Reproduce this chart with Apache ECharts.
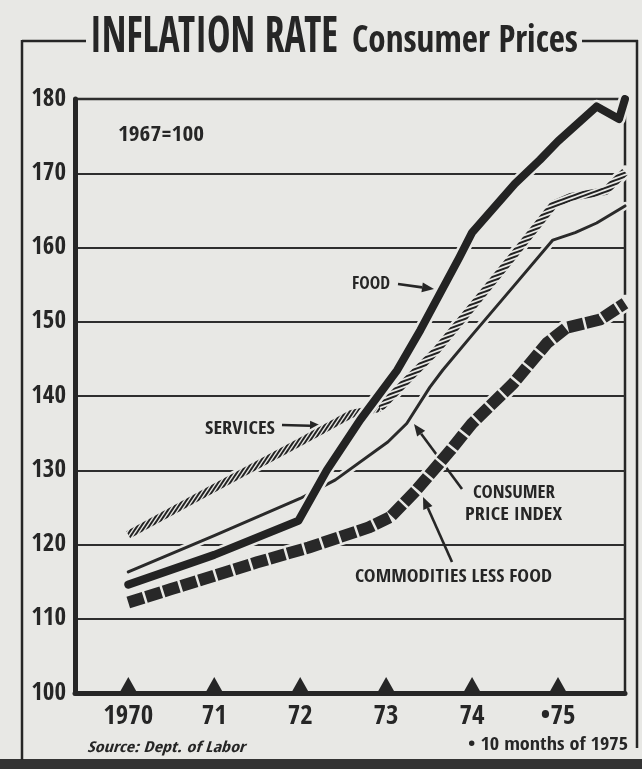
<!DOCTYPE html>
<html><head><meta charset="utf-8">
<script src="https://cdn.jsdelivr.net/npm/echarts@6/dist/echarts.min.js"></script>
<style>html,body{margin:0;padding:0;background:#e8e8e5}#c{width:642px;height:769px}</style>
</head><body><div id="c"></div>
<script>
// ---------- data ----------
const xTickYears  = [1970, 1971, 1972, 1973, 1974, 1975];
const xTickLabels = ['1970', '71', '72', '73', '74', '\u202275'];
const yTickValues = [100, 110, 120, 130, 140, 150, 160, 170, 180];

const foodData = [
  [1970.0, 114.6], [1971.0, 118.6], [1971.98, 123.2], [1972.31, 130.0], [1972.70, 136.8],
  [1973.13, 143.5], [1973.40, 148.9], [1973.85, 158.6], [1974.0, 162.0], [1974.5, 168.6],
  [1974.79, 171.8], [1975.0, 174.3], [1975.45, 179.0], [1975.71, 177.3], [1975.78, 180.0]
];
const servicesData = [
  [1970.0, 121.3], [1971.0, 127.6], [1972.0, 133.8], [1972.6, 137.6], [1972.93, 138.4],
  [1973.36, 143.5], [1973.59, 146.2], [1974.0, 152.0], [1974.5, 159.2], [1974.95, 165.8],
  [1975.15, 166.8], [1975.55, 167.6], [1975.78, 170.2]
];
const cpiData = [
  [1970.0, 116.3], [1971.0, 121.2], [1972.0, 126.2], [1972.41, 128.7], [1973.02, 133.8],
  [1973.24, 136.3], [1973.51, 141.2], [1973.66, 143.5], [1974.0, 148.2], [1974.5, 155.0],
  [1974.94, 161.0], [1975.2, 162.0], [1975.45, 163.3], [1975.78, 165.6]
];
const commoditiesData = [
  [1970.0, 112.2], [1970.5, 114.0], [1971.0, 115.8], [1971.5, 117.6], [1972.1, 119.6],
  [1972.8, 122.3], [1973.05, 123.7], [1973.35, 127.3], [1973.75, 132.7], [1974.0, 136.3],
  [1974.48, 141.7], [1974.87, 147.1], [1975.1, 149.2], [1975.49, 150.3], [1975.78, 152.5]
];

// ---------- styling ----------
const ink = '#262626', paper = '#e8e8e5';
const FONT = "'Open Sans Condensed','Open Sans','DejaVu Sans Condensed',sans-serif";

const mctx = document.createElement('canvas').getContext('2d');
function fontStr(size, weight, style) { return (style || 'normal') + ' ' + (weight || 'bold') + ' ' + size + 'px ' + FONT; }
function txt(text, x, y, size, targetW, opt) {
  opt = opt || {};
  const f = fontStr(size, opt.weight, opt.style);
  mctx.font = f;
  const sx = targetW / mctx.measureText(text).width;
  return { type: 'text', x: x, y: y, scaleX: sx, z: 20,
    style: { text: text, x: 0, y: 0, font: f, fill: ink, textAlign: 'left', textVerticalAlign: 'middle' } };
}
function arrow(x1, y1, x2, y2) {
  const a = Math.atan2(y2 - y1, x2 - x1), L = 12, W = 5;
  const bx = x2 - L * Math.cos(a), by = y2 - L * Math.sin(a);
  const px = -Math.sin(a) * W, py = Math.cos(a) * W;
  return [
    { type: 'line', z: 1, shape: { x1: x1, y1: y1, x2: bx, y2: by }, style: { stroke: ink, lineWidth: 2.6 } },
    { type: 'polygon', z: 1, shape: { points: [[x2, y2], [bx + px, by + py], [bx - px, by - py]] }, style: { fill: ink } }
  ];
}
function hLine(x1, x2, y, w) { return { type: 'line', z: 20, shape: { x1: x1, y1: y, x2: x2, y2: y }, style: { stroke: ink, lineWidth: w } }; }
function vLine(x, y1, y2, w) { return { type: 'line', z: 20, shape: { x1: x, y1: y1, x2: x, y2: y2 }, style: { stroke: ink, lineWidth: w } }; }

// hatched patterns for SERVICES (stripe angle differs along the line as in the print)
function makeHatch(w, h, lw) {
  const pc = document.createElement('canvas');
  pc.width = w; pc.height = h;
  const p = pc.getContext('2d');
  p.strokeStyle = '#222';
  p.lineWidth = lw;
  for (let k = -3; k <= 3; k++) {
    p.beginPath();
    p.moveTo(-w, 2 * h + k * h);
    p.lineTo(2 * w, -h + k * h);
    p.stroke();
  }
  return { image: pc, repeat: 'repeat' };
}
const hatchSteep = makeHatch(4, 6, 2.0);   // early, shallow part of the line
const hatchFlat  = makeHatch(11, 4, 2.1);  // later, steep part of the line

function halo(data, width, z) {
  return { type: 'line', data: data, z: z, silent: true, symbol: 'none', animation: false,
    lineStyle: { color: paper, width: width + 5, cap: 'round', join: 'round', opacity: 1 } };
}
function ln(data, color, width, z, dash, cap) {
  return { type: 'line', data: data, z: z, silent: true, symbol: 'none', animation: false,
    lineStyle: { color: color, width: width, type: dash || 'solid', cap: cap || 'round', join: 'round', opacity: 1 } };
}

const chart = echarts.init(document.getElementById('c'), null, { renderer: 'canvas' });

const graphics = [].concat(
  [
    { type: 'rect', z: 20, shape: { x: 0, y: 759, width: 642, height: 10 }, style: { fill: '#333' } },
    hLine(22, 86, 41, 2.5), hLine(582, 638, 41, 2.5),
    vLine(22, 40, 760, 2.5), vLine(637, 40, 748, 2.5),
    txt('INFLATION RATE', 90, 39, 50, 248),
    txt('Consumer Prices', 352, 42, 38, 226),
    txt('1967=100', 118, 136, 21, 86),
    txt('FOOD', 352, 284, 18, 38),
    txt('SERVICES', 205, 429, 18, 70),
    txt('CONSUMER', 473, 493, 18, 82),
    txt('PRICE INDEX', 465, 515, 18, 97),
    txt('COMMODITIES LESS FOOD', 355, 577, 18, 197),
    txt('Source: Dept. of Labor', 87, 748, 15, 158, { style: 'italic' }),
    txt('\u2022 10 months of 1975', 468, 745, 18, 160)
  ],
  arrow(398, 284, 434, 289),
  arrow(282, 425, 322, 426),
  arrow(462, 489, 414, 424),
  arrow(452, 562, 423, 497)
);

const splitIdx = 4; // services: index where stripe angle changes
const option = {
  backgroundColor: paper,
  animation: false,
  grid: { left: 75, right: 17, top: 99, bottom: 76, show: true, borderColor: ink, borderWidth: 2.5, backgroundColor: 'transparent' },
  xAxis: {
    type: 'value', min: 1969.38, max: 1975.78,
    axisLine: { show: true, onZero: false, lineStyle: { color: ink, width: 5 } },
    axisTick: { show: false },
    splitLine: { show: false },
    axisLabel: {
      customValues: xTickYears,
      formatter: function (v) { const i = xTickYears.indexOf(v); return i >= 0 ? xTickLabels[i] : ''; },
      color: ink, fontSize: 27, fontWeight: 'bold', fontFamily: FONT, margin: 10
    }
  },
  yAxis: {
    type: 'value', min: yTickValues[0], max: yTickValues[yTickValues.length - 1], interval: 10,
    axisLine: { show: true, lineStyle: { color: ink, width: 5 } },
    axisTick: { show: false },
    splitLine: { show: true, lineStyle: { color: '#2e2e2e', width: 2 } },
    axisLabel: { color: ink, fontSize: 25, fontWeight: 'bold', fontFamily: FONT, margin: 9,
      formatter: function (v) { return yTickValues.indexOf(v) >= 0 ? String(v) : ''; } }
  },
  series: [
    halo(commoditiesData, 12, 3),
    ln(commoditiesData, '#282828', 12, 4, [16, 2.5], 'butt'),
    halo(cpiData, 3, 5),
    ln(cpiData, '#2a2a2a', 3, 6),
    halo(servicesData, 8, 7),
    ln(servicesData.slice(0, splitIdx + 1), hatchSteep, 8, 8, 'solid', 'butt'),
    ln(servicesData.slice(splitIdx), hatchFlat, 8, 8, 'solid', 'butt'),
    halo(foodData, 8, 9),
    ln(foodData, '#232323', 8, 10),
    {
      type: 'scatter', z: 12, silent: true, clip: false, animation: false,
      data: xTickYears.map(function (y) { return [y, yTickValues[0]]; }),
      symbol: 'triangle', symbolSize: [18, 16], symbolOffset: [0, -8],
      itemStyle: { color: ink, opacity: 1 }
    }
  ],
  graphic: graphics
};
chart.setOption(option);
</script>
</body></html>
